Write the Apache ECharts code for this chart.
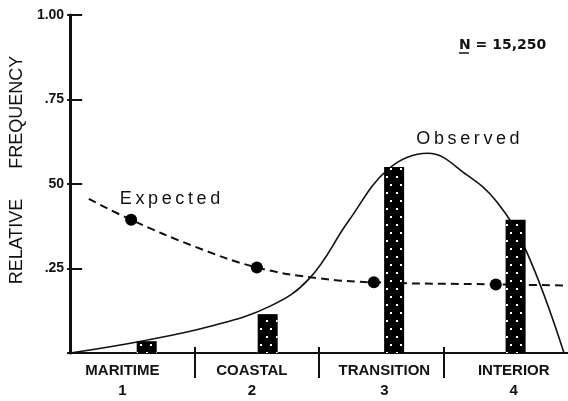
<!DOCTYPE html>
<html>
<head>
<meta charset="utf-8">
<script src="https://cdn.jsdelivr.net/npm/echarts@6/dist/echarts.min.js"></script>
<style>html,body{margin:0;padding:0;background:#fff}#c{width:568px;height:401px}</style>
</head>
<body>
<div id="c"></div>
<script>
// ---- data ----
const categories = ['MARITIME', 'COASTAL', 'TRANSITION', 'INTERIOR'];
const categoryNumbers = ['1', '2', '3', '4'];
const yTickLabels = ['', '.25', '50', '.75', '1.00'];
// x positions in category units (category i spans i..i+1)
const barX = [0.615, 1.587, 2.603, 3.579];
const barValues = [0.035, 0.115, 0.55, 0.394];
const expectedX = [0.49, 1.50, 2.44, 3.42];
const expectedValues = [0.394, 0.253, 0.209, 0.203];
const expectedCurveX = [0.15, 0.49, 1.0, 1.50, 2.0, 2.44, 3.42, 3.97];
const expectedCurveValues = [0.456, 0.394, 0.315, 0.253, 0.221, 0.209, 0.203, 0.2];
const observedX = [0, 0.571, 1.127, 1.603, 1.921, 2.238, 2.556, 2.873, 3.19, 3.429, 3.667, 3.968];
const observedValues = [0, 0.035, 0.079, 0.138, 0.22, 0.391, 0.544, 0.591, 0.526, 0.447, 0.3, 0];
const sampleSize = '15,250';

const zip = (a, b) => a.map((v, i) => [v, b[i]]);
const spaced = s => s.split('').join('\u2009');
const labelShift = [20, 10, -6, -16]; // padding to nudge category labels

const chart = echarts.init(document.getElementById('c'), null, {renderer: 'canvas'});
const black = '#111';
const option = {
  animation: false,
  backgroundColor: '#fff',
  grid: {left: 68, top: 15, width: 504, height: 340},
  xAxis: [
    {type: 'value', min: 0, max: 4, interval: 1,
     axisLine: {show: true, onZero: false, lineStyle: {color: black, width: 2}},
     axisTick: {show: true, inside: false, length: 25, customValues: [1, 2, 3], lineStyle: {color: black, width: 2}},
     axisLabel: {show: false}, splitLine: {show: false}},
    {type: 'value', min: 0, max: 4, interval: 1, position: 'bottom',
     axisLine: {show: false},
     axisTick: {show: true, inside: true, length: 6, customValues: [1, 2, 3], lineStyle: {color: black, width: 2}},
     axisLabel: {show: false}, splitLine: {show: false}},
    {type: 'category', position: 'bottom', boundaryGap: true,
     data: categories.map((c, i) => ({
       value: c + '\n' + categoryNumbers[i],
       textStyle: {padding: labelShift[i] > 0 ? [0, labelShift[i], 0, 0] : [0, 0, 0, -labelShift[i]]}
     })),
     axisLine: {show: false}, axisTick: {show: false},
     axisLabel: {margin: 8, color: black, fontFamily: 'Liberation Sans', fontWeight: 'bold', fontSize: 15, lineHeight: 20, interval: 0}}
  ],
  yAxis: [
    {type: 'value', min: 0, max: 1, interval: 0.25,
     axisLine: {show: true, lineStyle: {color: black, width: 3}},
     axisTick: {show: true, inside: true, length: 12, lineStyle: {color: black, width: 2}},
     axisLabel: {margin: 6, color: black, fontFamily: 'Liberation Sans Narrow, Liberation Sans', fontWeight: 'bold', fontSize: 14,
                 formatter: v => yTickLabels[Math.round(v * 4)]},
     splitLine: {show: false},
     name: 'RELATIVE      FREQUENCY', nameLocation: 'middle', nameRotate: 90, nameGap: 44,
     nameTextStyle: {color: black, fontFamily: 'Liberation Sans', fontSize: 18, padding: [0, 0, 0, 28]}},
    {type: 'value', min: 0, max: 1, interval: 0.25, position: 'left',
     axisLine: {show: false},
     axisTick: {show: true, inside: false, length: 3, lineStyle: {color: black, width: 2}},
     axisLabel: {show: false}, splitLine: {show: false}}
  ],
  series: [
    {type: 'line', name: 'Expected curve', data: zip(expectedCurveX, expectedCurveValues), smooth: 0.4,
     symbol: 'none', lineStyle: {color: black, width: 2, type: [8, 5]}, z: 2},
    {type: 'line', name: 'Observed', data: zip(observedX, observedValues), smooth: 0.4,
     symbol: 'none', lineStyle: {color: black, width: 1.6}, z: 2},
    {type: 'scatter', name: 'Expected', data: zip(expectedX, expectedValues), symbolSize: 12,
     itemStyle: {color: '#000', opacity: 1}, z: 3},
    {type: 'bar', name: 'Frequency', data: zip(barX, barValues), barWidth: 20,
     itemStyle: {color: '#000', decal: {symbol: 'rect', symbolSize: 1, color: '#fff',
       dashArrayX: [[2, 8], [0, 6, 2, 2]], dashArrayY: [2, 6], rotation: 0}}, z: 4}
  ],
  graphic: [
    {type: 'text', x: 170, y: 199, z: 10, style: {text: spaced('Expected'), fill: black, font: '18px "Liberation Sans"', textAlign: 'center', textVerticalAlign: 'middle', align: 'center', verticalAlign: 'middle'}},
    {type: 'text', x: 468, y: 139, z: 10, style: {text: spaced('Observed'), fill: black, font: '18px "Liberation Sans"', textAlign: 'center', textVerticalAlign: 'middle', align: 'center', verticalAlign: 'middle'}},
    {type: 'text', x: 459, y: 45, z: 10, style: {text: 'N = ' + sampleSize, fill: black, font: 'bold 14px "DejaVu Sans"', textAlign: 'left', textVerticalAlign: 'middle', align: 'left', verticalAlign: 'middle'}},
    {type: 'line', z: 10, shape: {x1: 459, y1: 53, x2: 469, y2: 53}, style: {stroke: black, lineWidth: 1.5}}
  ]
};
chart.setOption(option);
</script>
</body>
</html>
